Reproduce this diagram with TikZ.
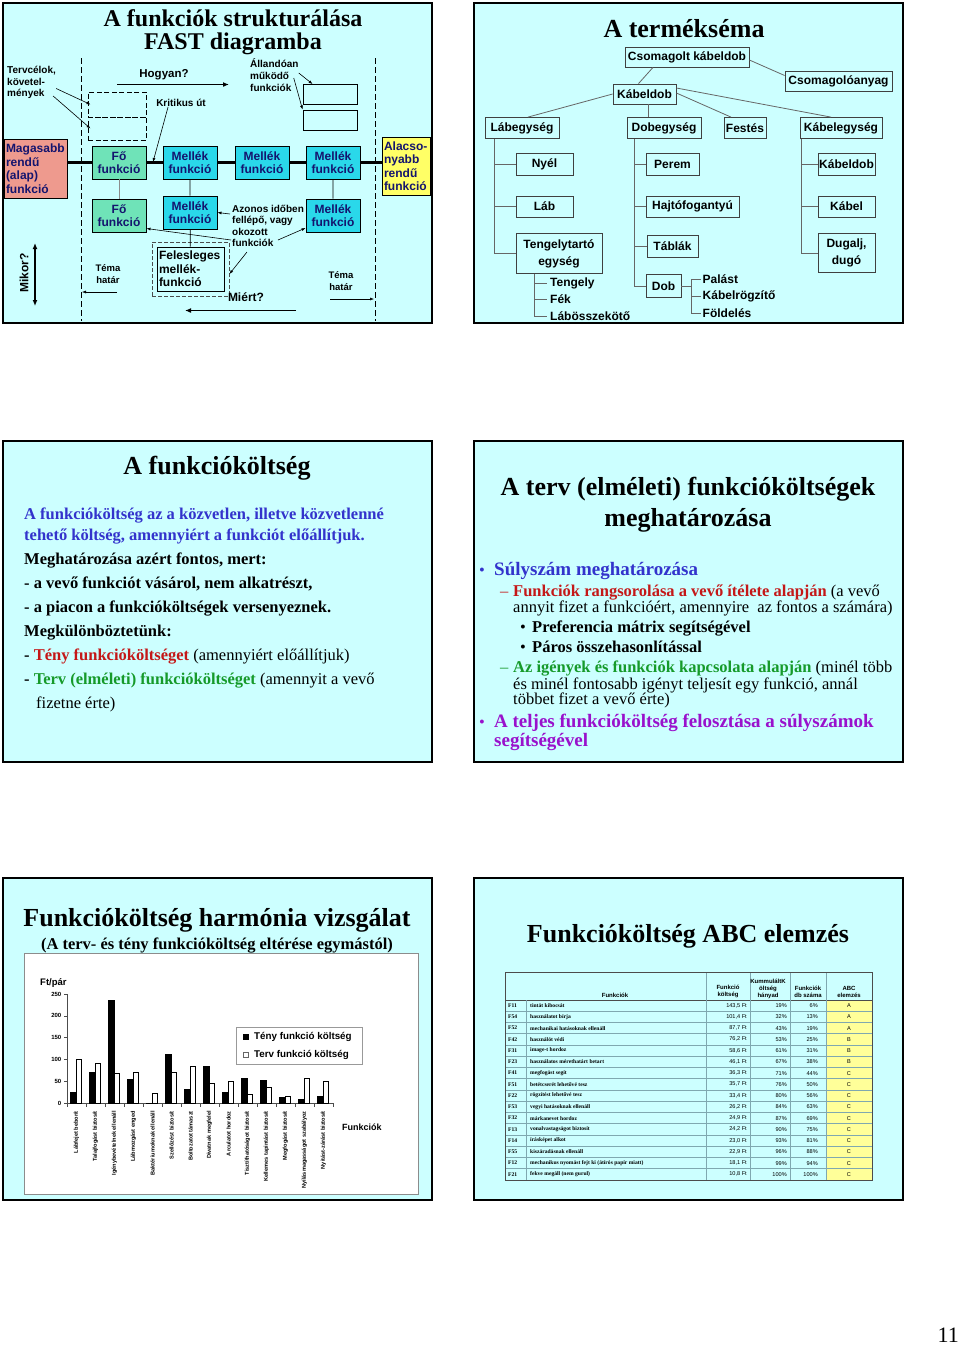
\documentclass[tikz,border=0pt]{standalone}
\usepackage{fontspec}
\setmainfont{Liberation Serif}
\setsansfont{Liberation Sans}
\usetikzlibrary{arrows.meta,positioning}

\definecolor{diahatter}{HTML}{CCFFFF}
\definecolor{alapszin}{HTML}{EE9A8E}
\definecolor{foszin}{HTML}{6FE3B8}
\definecolor{mellekszin}{HTML}{2AD8EA}
\definecolor{alacsszin}{HTML}{FFFF66}
\definecolor{dobozszoveg}{HTML}{14146E}
\definecolor{kek}{HTML}{3333CC}
\definecolor{piros}{HTML}{C41818}
\definecolor{zold}{HTML}{169A2A}
\definecolor{lila}{HTML}{9911CC}
\definecolor{tablavonal}{HTML}{7FA8B0}
\definecolor{abcsarga}{HTML}{FFFF99}

\newcommand\betu[2]{\fontsize{#1}{#2}\selectfont}

\tikzset{
  dia/.style={draw=black, line width=1.6, fill=diahatter, inner sep=0},
  cim/.style={font=\bfseries\betu{26}{31}, align=center, inner sep=0},
  fdoboz/.style={draw=black, line width=0.9, inner sep=1, align=center,
    text=dobozszoveg, font=\sffamily\bfseries\betu{12}{13.5}},
  megj/.style={font=\sffamily\bfseries\betu{10}{11.5}, align=left, inner sep=0},
  nyil/.style={line width=0.6, -{Latex[length=4pt,width=3pt]}},
  vastagnyil/.style={line width=1.4, -{Latex[length=6pt,width=5pt]}},
  pdoboz/.style={draw=black!75, line width=0.8, fill=diahatter, inner sep=1,
    align=center, font=\sffamily\bfseries\betu{12}{17}},
  pvonal/.style={draw=black!60, line width=0.8},
  lista/.style={anchor=west, inner sep=0, font=\sffamily\bfseries\betu{12}{14}},
  sor/.style={anchor=base west, inner sep=0, font=\bfseries\betu{16.5}{20}},
  pont/.style={anchor=base west, inner sep=0, font=\betu{16.5}{20}},
  tabla/.style={inner sep=0, font=\sffamily\betu{5.6}{6.5}},
  tablafej/.style={inner sep=0, align=center, font=\sffamily\bfseries\betu{6}{7}},
}

\begin{document}
\begin{tikzpicture}[x=1pt, y=-1pt]
  \useasboundingbox[fill=white] (0,0) rectangle (960,1345);

  % ---------- FAST diagram ----------
  \node[dia, minimum width=429, minimum height=320] (dia1) at (217.5,163) {};
  \node[cim, font=\bfseries\betu{24}{23}] (cim1) at (233,32) {A funkciók strukturálása\\FAST diagramba};
  \draw[line width=0.8, dash pattern=on 6pt off 3pt] (81,58) -- (81,321);
  \draw[line width=0.8, dash pattern=on 6pt off 3pt] (375,58) -- (375,321);

  \node[fdoboz, fill=alapszin, minimum width=63, minimum height=59, text width=59, align=left] (alap) at (35.5,168.5) {Magasabb\\rendű\\(alap)\\funkció};
  \node[fdoboz, fill=foszin, minimum width=54, minimum height=33] (fo1) at (119,162.5) {Fő\\funkció};
  \node[fdoboz, fill=mellekszin, minimum width=54, minimum height=33] (m1) at (190,162.5) {Mellék\\funkció};
  \node[fdoboz, fill=mellekszin, minimum width=54, minimum height=33] (m2) at (262,162.5) {Mellék\\funkció};
  \node[fdoboz, fill=mellekszin, minimum width=54, minimum height=33] (m3) at (333,162.5) {Mellék\\funkció};
  \node[fdoboz, fill=alacsszin, minimum width=48, minimum height=58, text width=44, align=left] (alacs) at (406,166) {Alacso-\\nyabb\\rendű\\funkció};
  \node[fdoboz, fill=foszin, minimum width=54, minimum height=33] (fo2) at (119,215.5) {Fő\\funkció};
  \node[fdoboz, fill=mellekszin, minimum width=54, minimum height=33] (m4) at (190,212.5) {Mellék\\funkció};
  \node[fdoboz, fill=mellekszin, minimum width=54, minimum height=33] (m5) at (333,215.5) {Mellék\\funkció};
  \node[draw=black!70, line width=0.9, dash pattern=on 4pt off 2pt, minimum width=77, minimum height=54, inner sep=0] (feleskeret) at (190.5,269) {};
  \node[fdoboz, text=black, minimum width=67, minimum height=44, text width=63, align=left] (feles) at (190.5,269) {Felesleges\\mellék-\\funkció};

  \node[draw, line width=1, dash pattern=on 5pt off 2.5pt, minimum width=58, minimum height=25, inner sep=0] (cel1) at (117,104.5) {};
  \node[draw, line width=1, dash pattern=on 5pt off 2.5pt, minimum width=58, minimum height=23, inner sep=0] (cel2) at (117,128.5) {};
  \node[draw, line width=0.9, minimum width=54, minimum height=20, inner sep=0] (all1) at (330,94.5) {};
  \node[draw, line width=0.9, minimum width=54, minimum height=20, inner sep=0] (all2) at (330,120) {};

  \draw[line width=3] (alap.east |- fo1) -- (fo1) (fo1) -- (m1) (m1) -- (m2) (m2) -- (m3) (m3) -- (m3 -| alacs.west);
  \draw[line width=0.8, black!45] (fo1) -- (fo2);
  \draw[line width=0.8] (m1) -- (m4) (m4) -- (feles) (m3) -- (m5);

  \node[megj, font=\sffamily\bfseries\betu{11.5}{13}] (hogyan) at (164,75) {Hogyan?};
  \coordinate (hogyan-be) at (117,84.5);
  \coordinate (hogyan-ki) at (229,84.5);
  \draw[vastagnyil] (hogyan-be) -- (hogyan-ki);

  \node[megj] (kritikus) at (181,103) {Kritikus út};
  \coordinate (krit-ki) at (153,162);
  \draw[nyil] ([xshift=12]kritikus.south west) -- (krit-ki);

  \node[megj, anchor=west] (tervcel) at (7,82.5) {Tervcélok,\\követel-\\mények};
  \draw[nyil] ([yshift=-6]tervcel.east) -- ([xshift=3]cel1.west);
  \draw[nyil] ([xshift=-3,yshift=-13.5]tervcel.east) -- ([xshift=3]cel2.west);

  \node[megj, anchor=west, font=\sffamily\bfseries\betu{10}{12}] (allando) at (250,75) {Állandóan\\működő\\funkciók};
  \draw[nyil] ([yshift=2]allando.east) -- ([xshift=10]all1.north west);
  \draw[nyil] ([xshift=-5,yshift=-3]allando.east) -- (all2.north west);

  \node[megj, anchor=north west] (azonos) at (232,205) {Azonos időben\\fellépő, vagy\\okozott\\funkciók};
  \coordinate (az1) at (230,214);
  \coordinate (az2) at (231,240);
  \coordinate (az3) at (278,240);
  \coordinate (az4) at (247,252);
  \draw[nyil] (az1) -- (m4.east);
  \draw[nyil] (az2) -- ([yshift=-13]fo2.east);
  \draw[nyil] (az3) -- ([yshift=-12.5]m5.west);
  \draw[nyil] (az4) -- ([yshift=-5]feleskeret.east);

  \node[megj, font=\sffamily\bfseries\betu{12}{13}] (miert) at (246,297) {Miért?};
  \coordinate (miert-be) at (296,310.5);
  \coordinate (miert-ki) at (185,310.5);
  \draw[vastagnyil] (miert-be) -- (miert-ki);

  \node[megj, align=center, font=\sffamily\bfseries\betu{9.5}{11.5}] (tema1) at (108,274) {Téma\\határ};
  \coordinate (tema1-be) at (117,292);
  \coordinate (tema1-ki) at (82,292);
  \draw[nyil, line width=0.5] (tema1-be) -- (tema1-ki);
  \node[megj, align=center, font=\sffamily\bfseries\betu{9.5}{11.5}] (tema2) at (341,281) {Téma\\határ};
  \coordinate (tema2-be) at (330,299);
  \coordinate (tema2-ki) at (374,299);
  \draw[nyil, line width=0.5] (tema2-be) -- (tema2-ki);

  \node[megj, font=\sffamily\bfseries\betu{12}{13}, rotate=90] (mikor) at (24,273) {Mikor?};
  \coordinate (mikor-fel) at (35,243);
  \coordinate (mikor-le) at (35,306);
  \draw[line width=1.4, {Latex[length=6pt,width=5pt]}-{Latex[length=6pt,width=5pt]}] (mikor-fel) -- (mikor-le);

  % ---------- termekséma ----------
  \node[dia, minimum width=429, minimum height=320] (dia2) at (688.5,163) {};
  \node[cim] (cim2) at (684,29) {A termékséma};

  \node[pdoboz, minimum width=124, minimum height=20] (csomkd) at (687,57) {Csomagolt kábeldob};
  \node[pdoboz, minimum width=63, minimum height=20] (kdob) at (644.5,94) {Kábeldob};
  \node[pdoboz, minimum width=107, minimum height=20] (csomag) at (838.5,81.5) {Csomagolóanyag};
  \node[pdoboz, minimum width=74, minimum height=21] (labegy) at (522,128) {Lábegység};
  \node[pdoboz, minimum width=74, minimum height=21] (dobegy) at (664,128) {Dobegység};
  \node[pdoboz, minimum width=42, minimum height=21] (festes) at (745,128) {Festés};
  \node[pdoboz, minimum width=82, minimum height=21] (kabegy) at (841,128) {Kábelegység};
  \node[pdoboz, minimum width=57, minimum height=22] (nyel) at (544.5,164) {Nyél};
  \node[pdoboz, minimum width=57, minimum height=21] (lab) at (544.5,206.5) {Láb};
  \node[pdoboz, minimum width=86, minimum height=40] (tengtarto) at (559,253.5) {Tengelytartó\\egység};
  \node[pdoboz, minimum width=53, minimum height=22] (perem) at (672.5,164) {Perem};
  \node[pdoboz, minimum width=93, minimum height=21] (hajto) at (692.5,206.5) {Hajtófogantyú};
  \node[pdoboz, minimum width=51, minimum height=22] (tablak) at (672.5,246) {Táblák};
  \node[pdoboz, minimum width=35, minimum height=23] (dob) at (663.5,286) {Dob};
  \node[pdoboz, minimum width=57, minimum height=22] (kdob2) at (846.5,164.5) {Kábeldob};
  \node[pdoboz, minimum width=57, minimum height=21] (kabel) at (846.5,206.5) {Kábel};
  \node[pdoboz, minimum width=57, minimum height=39] (dugalj) at (846.5,253) {Dugalj,\\dugó};

  \node[lista] (tengely) at (550,283) {Tengely};
  \node[lista] (fek) at (550,299.5) {Fék};
  \node[lista] (labossz) at (550,316) {Lábösszekötő};
  \node[lista] (palast) at (702.5,279) {Palást};
  \node[lista] (rogzito) at (702.5,296) {Kábelrögzítő};
  \node[lista] (foldeles) at (702.5,313) {Földelés};

  \draw[pvonal] ([xshift=-34]csomkd.south) -- ([xshift=-6]kdob.north);
  \draw[pvonal] ([yshift=-3]csomkd.east) -- ([yshift=6]csomag.west);
  \draw[pvonal] (kdob.west) -- ([xshift=6]labegy.north);
  \draw[pvonal] ([xshift=4]kdob.south) -- ([xshift=4]kdob.south |- dobegy.north);
  \draw[pvonal] ([yshift=6]kdob.east) -- ([xshift=-10]kabegy.north);
  \draw[pvonal] ([yshift=1]kdob.east) -- ([xshift=-14]festes.north);

  \draw[pvonal] (labegy.south west) ++(10,0) coordinate (lt) -- (lt |- tengtarto.west) -- (tengtarto.west);
  \draw[pvonal] (lt |- nyel.west) -- (nyel.west) (lt |- lab.west) -- (lab.west);
  \draw[pvonal] (dobegy.south west) ++(8,0) coordinate (dt) -- (dt |- dob.west) -- (dob.west);
  \draw[pvonal] (dt |- perem.west) -- (perem.west) (dt |- hajto.west) -- (hajto.west) (dt |- tablak.west) -- (tablak.west);
  \draw[pvonal] (kabegy.south west) ++(2,0) coordinate (kt) -- (kt |- dugalj.west) -- (dugalj.west);
  \draw[pvonal] (kt |- kdob2.west) -- (kdob2.west) (kt |- kabel.west) -- (kabel.west);
  \draw[pvonal] (tengtarto.south west) ++(19,0) coordinate (tt) -- (tt |- labossz.west) -- ([xshift=-3]labossz.west);
  \draw[pvonal] (tt |- tengely.west) -- ([xshift=-3]tengely.west) (tt |- fek.west) -- ([xshift=-3]fek.west);
  \draw[pvonal] (dob.east) -- ++(10,0) coordinate (dl);
  \draw[pvonal] ([xshift=-2]palast.west) -| (dl |- foldeles.west) -- ([xshift=-2]foldeles.west);
  \draw[pvonal] (dl |- rogzito.west) -- ([xshift=-2]rogzito.west);

  % ---------- funkcióköltség ----------
  \node[dia, minimum width=429, minimum height=321] (dia3) at (217.5,601.5) {};
  \node[cim] (cim3) at (217,468) {A funkcióköltség};
  \node[sor, text=kek] (s31) at (24,519.5) {A funkcióköltség az a közvetlen, illetve közvetlenné};
  \node[sor, text=kek] (s32) at (24,540.5) {tehető költség, amennyiért a funkciót előállítjuk.};
  \node[sor] (s33) at (24,564.5) {Meghatározása azért fontos, mert:};
  \node[sor] (s34) at (24,588.5) {- a vevő funkciót vásárol, nem alkatrészt,};
  \node[sor] (s35) at (24,612.5) {- a piacon a funkcióköltségek versenyeznek.};
  \node[sor] (s36) at (24,636.5) {Megkülönböztetünk:};
  \node[sor] (s37) at (24,660.5) {- {\color{piros}Tény funkcióköltséget} \mdseries(amennyiért előállítjuk)};
  \node[sor] (s38) at (24,684.5) {- {\color{zold}Terv (elméleti) funkcióköltséget} \mdseries(amennyit a vevő};
  \node[pont] (s39) at (36,708.5) {fizetne érte)};

  % ---------- terv funkcióköltségek ----------
  \node[dia, minimum width=429, minimum height=321] (dia4) at (688.5,601.5) {};
  \node[cim] (cim4) at (688,505) {A terv (elméleti) funkcióköltségek\\meghatározása};
  \node[pont, text=kek] (b41) at (479,575.5) {•};
  \node[sor, font=\bfseries\betu{19}{22}, text=kek] (s41) at (494,575.5) {Súlyszám meghatározása};
  \node[pont, text=piros] (d41) at (500,596.5) {–};
  \node[pont] (s42) at (513,596.5) {\textbf{\color{piros}Funkciók rangsorolása a vevő ítélete alapján} (a vevő};
  \node[pont] (s43) at (513,612.5) {annyit fizet a funkcióért, amennyire\ \ az fontos a számára)};
  \node[pont] (b42) at (520,632.5) {•};
  \node[sor] (s44) at (532,632.5) {Preferencia mátrix segítségével};
  \node[pont] (b43) at (520,652.5) {•};
  \node[sor] (s45) at (532,652.5) {Páros összehasonlítással};
  \node[pont, text=zold] (d42) at (500,672.5) {–};
  \node[pont] (s46) at (513,672.5) {\textbf{\color{zold}Az igények és funkciók kapcsolata alapján} (minél több};
  \node[pont] (s47) at (513,689) {és minél fontosabb igényt teljesít egy funkció, annál};
  \node[pont] (s48) at (513,704.5) {többet fizet a vevő érte)};
  \node[pont, text=lila] (b44) at (479,727) {•};
  \node[sor, font=\bfseries\betu{19}{22}, text=lila] (s49) at (494,727) {A teljes funkcióköltség felosztása a súlyszámok};
  \node[sor, font=\bfseries\betu{19}{22}, text=lila] (s410) at (494,746) {segítségével};

  % ---------- harmónia vizsgálat ----------
  \node[dia, minimum width=429, minimum height=322] (dia5) at (217.5,1039) {};
  \node[cim] (cim5) at (217,920) {Funkcióköltség harmónia vizsgálat};
  \node[cim, font=\bfseries\betu{16.5}{18}] (alcim5) at (217,945) {(A terv- és tény funkcióköltség eltérése egymástól)};
  \node[draw=black!45, line width=0.6, fill=white, minimum width=394, minimum height=241, inner sep=0] (grafikon) at (221,1073.5) {};
  \node[anchor=west, inner sep=0, font=\sffamily\bfseries\betu{9.5}{10}] (ftpar) at (40,982.5) {Ft/pár};
  \draw[black!70, line width=0.6] (67,994) -- (67,1103.3) -- (333,1103.3);
  \foreach \v in {0,50,...,250}{
    \pgfmathsetmacro\vy{1103.3-0.4373*\v}
    \draw[black!70, line width=0.5] (64,\vy) -- (67,\vy);
    \node[anchor=east, inner sep=0, font=\sffamily\bfseries\betu{6}{7}] (ytick\v) at (61.5,\vy) {\v};
  }
  \foreach \k in {0,...,14}
    \draw[black!70, line width=0.5] (67+19*\k,1103.3) -- (67+19*\k,1106.5);
  \foreach \teny/\terv/\nev [count=\i] in {25/100/Lábfejet beborít, 71/91/Talajfogást biztosít,
      235/70/Igénybevételnek ellenáll, 56/72/Lábmozgást enged, 1/24/Baktériumoknak ellenáll,
      113/72/Szellőzést biztosít, 32/85/Boltozatot támaszt, 84/46/Divatnak megfelel,
      25/50/Arculatot hordoz, 57/21/Tisztíthatóságot biztosít, 54/37/Kellemes tapintást biztosít,
      14/16/Megfogást biztosít, 9/58/Nyílásmagasságot szabályoz, 17/51/Nyitást-zárást biztosít}{
    \pgfmathsetmacro\kx{57.5+19*\i}
    \pgfmathsetmacro\tfel{1103.3-0.4373*\teny}
    \pgfmathsetmacro\pfel{1103.3-0.4373*\terv}
    \draw[fill=black, line width=0.4] (\kx-6,1103.3) rectangle (\kx-0.5,\tfel);
    \draw[fill=white, line width=0.4] (\kx-0.5,1103.3) rectangle (\kx+5,\pfel);
    \node[rotate=90, anchor=east, inner sep=0, font=\sffamily\bfseries\betu{5.6}{6}] (fcimke\i) at (\kx,1111) {\nev};
  }
  \node[draw=black!40, line width=0.6, fill=white, minimum width=126, minimum height=37, inner sep=0] (jelmagy) at (299,1045.5) {};
  \node[draw=black, fill=black, minimum size=5, inner sep=0] (jel1) at (246,1037) {};
  \node[draw=black!60, fill=white, minimum size=5, inner sep=0] (jel2) at (246,1055) {};
  \node[anchor=west, inner sep=0, font=\sffamily\bfseries\betu{9.8}{10}] (jelszoveg1) at (254,1037) {Tény funkció költség};
  \node[anchor=west, inner sep=0, font=\sffamily\bfseries\betu{9.8}{10}] (jelszoveg2) at (254,1055) {Terv funkció költség};
  \node[anchor=west, inner sep=0, font=\sffamily\bfseries\betu{9}{10}] (funkciok) at (342,1127) {Funkciók};

  % ---------- ABC elemzés ----------
  \node[dia, minimum width=429, minimum height=322] (dia6) at (688.5,1039) {};
  \node[cim] (cim6) at (688,936) {Funkcióköltség ABC elemzés};
  \fill[abcsarga] (826,1000) rectangle (872,1180);
  \foreach \i in {1,...,15}
    \draw[tablavonal, line width=0.6] (505,1000+11.25*\i) -- (872,1000+11.25*\i);
  \draw[black!70, line width=0.8] (505,1000) -- (872,1000);
  \draw[tablavonal, line width=0.6] (526,1000) -- (526,1180);
  \foreach \x in {706,750,790,826}
    \draw[tablavonal, line width=0.6] (\x,972) -- (\x,1180);
  \draw[black!70, line width=0.8] (505,972) rectangle (872,1180);
  \node[tablafej] (fej1) at (615,995) {Funkciók};
  \node[tablafej] (fej2) at (728,991.5) {Funkció\\költség};
  \node[tablafej] (fej3) at (768,988.5) {KummuláltK\\öltség\\hányad};
  \node[tablafej] (fej4) at (808,991.5) {Funkciók\\db száma};
  \node[tablafej] (fej5) at (849,991.5) {ABC\\elemzés};
  \foreach \kod/\nev/\kolt/\kum/\db/\abc [count=\i from 0] in {
      F11/tintát kibocsát/{143,5 Ft}/19/6/A,
      F54/használatot bírja/{101,4 Ft}/32/13/A,
      F52/mechanikai hatásoknak ellenáll/{87,7 Ft}/43/19/A,
      F42/használót védi/{76,2 Ft}/53/25/B,
      F31/image-t hordoz/{58,6 Ft}/61/31/B,
      F23/használatos mérethatárt betart/{46,1 Ft}/67/38/B,
      F41/megfogást segít/{36,3 Ft}/71/44/C,
      F51/betétcserét lehetővé tesz/{35,7 Ft}/76/50/C,
      F22/rögzítést lehetővé tesz/{33,4 Ft}/80/56/C,
      F53/vegyi hatásoknak ellenáll/{26,2 Ft}/84/63/C,
      F32/márkanevet hordoz/{24,9 Ft}/87/69/C,
      F13/vonalvastagságot biztosít/{24,2 Ft}/90/75/C,
      F14/írásképet alkot/{23,0 Ft}/93/81/C,
      F55/kiszáradásnak ellenáll/{22,9 Ft}/96/88/C,
      F12/mechanikus nyomást fejt ki (átírós papír miatt)/{18,1 Ft}/99/94/C,
      F21/fekve megáll (nem gurul)/{10,8 Ft}/100/100/C}{
    \pgfmathsetmacro\ky{1005.6+11.25*\i}
    \node[tabla, anchor=west, font=\bfseries\betu{5.6}{6.5}] (kod\i) at (508,\ky) {\kod};
    \node[tabla, anchor=west, font=\bfseries\betu{5.6}{6.5}] (nev\i) at (530,\ky) {\nev};
    \node[tabla, anchor=east] (kolt\i) at (747,\ky) {\kolt};
    \node[tabla, anchor=east] (kum\i) at (787,\ky) {\kum\%};
    \node[tabla, anchor=east] (db\i) at (818,\ky) {\db\%};
    \node[tabla] (abc\i) at (849,\ky) {\abc};
  }

  \node[anchor=east, inner sep=0, font=\betu{22}{24}] (oldalszam) at (959,1335) {11};
\end{tikzpicture}
\end{document}
